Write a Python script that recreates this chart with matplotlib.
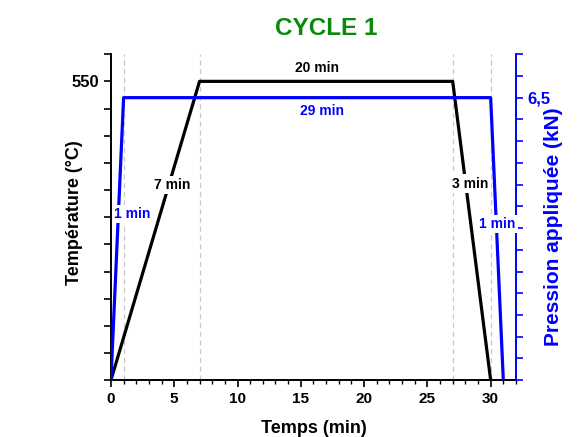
import matplotlib.pyplot as plt
from matplotlib.ticker import MultipleLocator, FixedLocator, FuncFormatter

plt.rcParams['font.family'] = ['Liberation Sans', 'DejaVu Sans']
plt.rcParams['font.weight'] = 'bold'

# temperature cycle
temp_time = [0, 7, 27, 30]
temp_values = [0, 550, 550, 0]

# applied pressure cycle
press_time = [0, 1, 30, 31]
press_values = [0, 6.5, 6.5, 0]

step_marks = [1, 7, 27, 30]

temp_labels = ["7 min", "20 min", "3 min"]
temp_label_x = [4.8, 16.3, 28.4]
temp_label_y = [360, 574, 362]

press_labels = ["1 min", "29 min", "1 min"]
press_label_x = [1.65, 16.7, 30.55]
press_label_y = [3.82, 6.2, 3.6]

blue = "#0000ff"

fig = plt.figure(figsize=(5.87, 4.37), dpi=100)
ax1 = fig.add_axes([0.189, 0.130, 0.690, 0.746])
ax2 = ax1.twinx()

for t in step_marks:
    ax1.axvline(t, color="#c8c8c8", linestyle=(0, (4, 3)), linewidth=0.9, zorder=1)

ax1.plot(temp_time, temp_values, color="black", linewidth=2.3, zorder=3)
ax2.plot(press_time, press_values, color=blue, linewidth=2.3, zorder=3)

box = dict(facecolor="white", edgecolor="none", pad=1.5)
for txt, x, y in zip(temp_labels, temp_label_x, temp_label_y):
    ax1.text(x, y, txt, color="black", fontsize=10, fontweight="bold",
             ha="center", va="center", bbox=box, zorder=4)
for txt, x, y in zip(press_labels, press_label_x, press_label_y):
    ax2.text(x, y, txt, color=blue, fontsize=10, fontweight="bold",
             ha="center", va="center", bbox=box, zorder=4)

ax1.set_xlim(0, 32)
ax1.set_ylim(0, 600)
ax2.set_ylim(0, 7.5)

ax1.xaxis.set_major_locator(FixedLocator([0, 5, 10, 15, 20, 25, 30]))
ax1.xaxis.set_minor_locator(MultipleLocator(1))
ax1.yaxis.set_major_locator(MultipleLocator(50))
ax1.yaxis.set_major_formatter(FuncFormatter(lambda v, p: "550" if abs(v - 550) < 1e-6 else ""))
ax2.yaxis.set_major_locator(MultipleLocator(0.5))
ax2.yaxis.set_major_formatter(FuncFormatter(lambda v, p: "6,5" if abs(v - 6.5) < 1e-6 else ""))

for ax in (ax1, ax2):
    ax.spines["top"].set_visible(False)
ax1.spines["right"].set_visible(False)
ax2.spines["left"].set_visible(False)
ax2.spines["bottom"].set_visible(False)
ax2.spines["right"].set_color(blue)
ax2.spines["right"].set_linewidth(1.4)
ax1.spines["left"].set_linewidth(1.4)
ax1.spines["bottom"].set_linewidth(1.4)

ax1.tick_params(axis="x", which="major", direction="out", length=5, width=1.2,
                labelsize=11)
ax1.tick_params(axis="y", which="major", direction="out", length=5, width=1.2,
                labelsize=12)
ax1.tick_params(axis="x", which="minor", direction="out", length=3, width=1.0)
ax2.tick_params(axis="y", which="major", direction="out", length=5, width=1.2,
                colors=blue, labelsize=12)

for lab in ax1.get_xticklabels() + ax1.get_yticklabels() + ax2.get_yticklabels():
    lab.set_fontweight("bold")

ax1.set_xlabel("Temps (min)", fontsize=13, fontweight="bold", labelpad=10)
ax1.set_ylabel("Température (°C)", fontsize=13, fontweight="bold")
ax1.yaxis.set_label_coords(-0.068, 0.514)
ax2.set_ylabel("Pression appliquée (kN)", fontsize=15, fontweight="bold",
               color=blue)
ax2.yaxis.set_label_coords(1.07, 0.47)

fig.suptitle("CYCLE 1", x=0.556, y=0.962, fontsize=17.5, fontweight="bold",
             color="#0a8a0a")

fig.savefig("out.png", dpi=100)
plt.close(fig)
